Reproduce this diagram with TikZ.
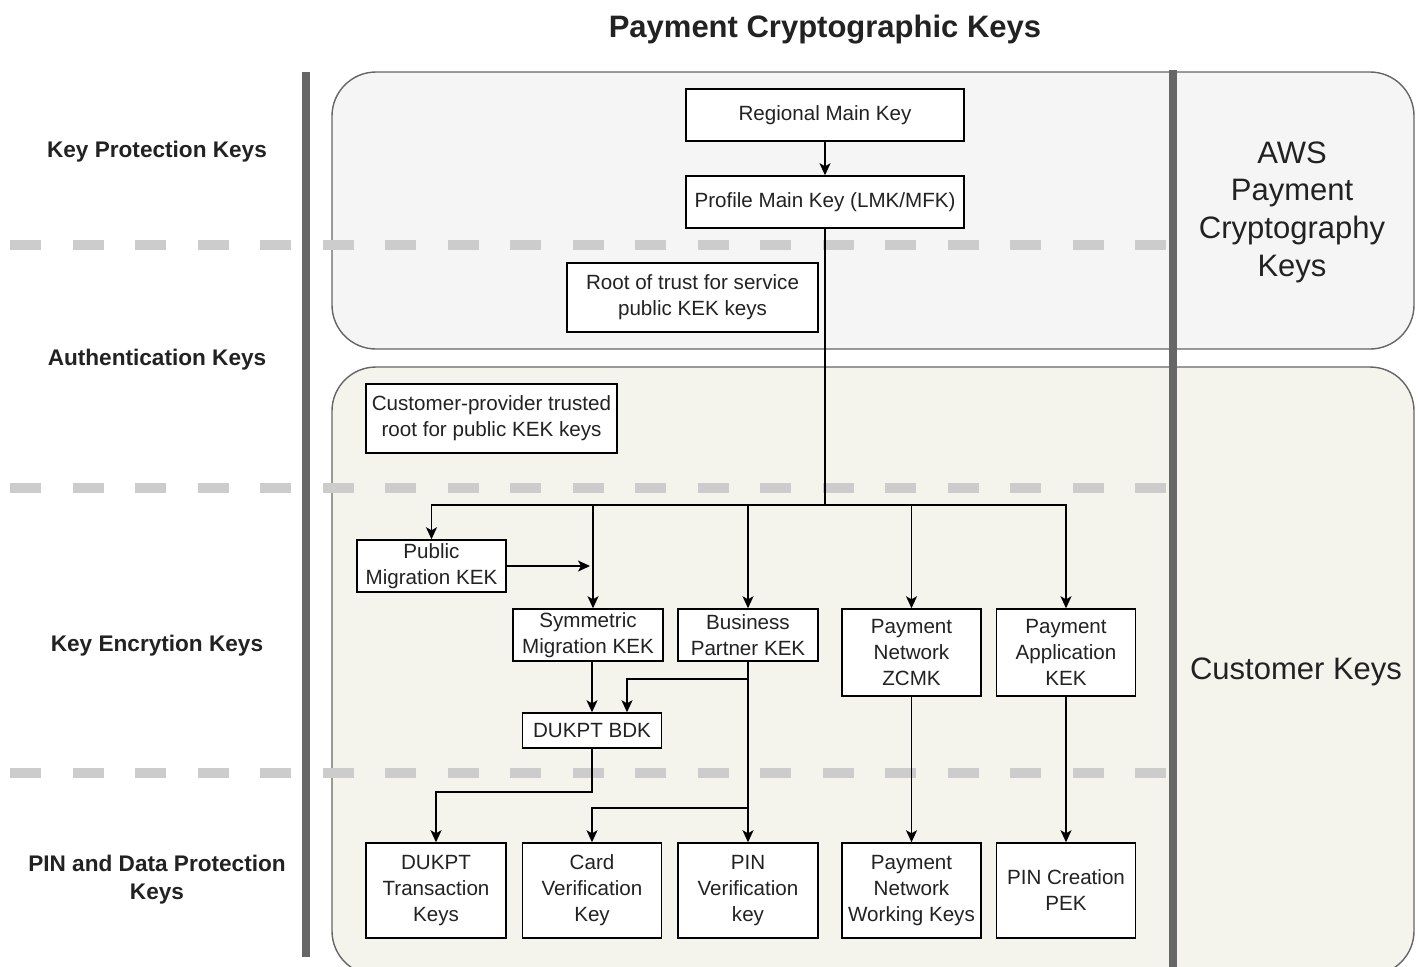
\documentclass[tikz,border=0pt]{standalone}
\usepackage{fontspec}
\setmainfont{Liberation Sans}
\usetikzlibrary{arrows.meta}
\definecolor{bargray}{HTML}{666666}
\definecolor{dashgray}{HTML}{CCCCCC}
\definecolor{topfill}{HTML}{F5F5F5}
\definecolor{botfill}{HTML}{F4F4EC}
\definecolor{txt}{HTML}{222222}
\tikzset{
  kbox/.style={draw=black, line width=0.75pt, fill=white, inner sep=0pt, align=center,
    text=txt, font=\fontsize{10.3}{13}\selectfont},
  arr/.style={line width=0.75pt, -{Stealth[length=6pt,width=5.5pt,inset=1.5pt]}},
  conn/.style={line width=0.75pt},
  layerline/.style={dashgray, line width=5pt, dash pattern=on 15.6pt off 15.65pt},
  vbar/.style={bargray, line width=4pt},
  region/.style={draw=bargray, line width=0.7pt, rounded corners=22pt},
  lefttext/.style={align=center, font=\bfseries\fontsize{11.3}{14}\selectfont, text=txt},
  righttext/.style={align=center, font=\fontsize{15.5}{18.8}\selectfont, text=txt},
}
\begin{document}
\begin{tikzpicture}[x=0.5pt,y=-0.5pt]
\useasboundingbox (0,0) rectangle (1418,966);
\begin{scope}
\clip (0,0) rectangle (1418,966);
% regions
\draw[region, fill=topfill] (332,72) rectangle (1414,349);
\draw[region, fill=botfill] (332,367) rectangle (1414,975);
% layer separators
\draw[layerline] (10,245) -- (1166,245);
\draw[layerline] (10,488) -- (1166,488);
\draw[layerline] (10,773) -- (1166,773);
% bars
\draw[vbar] (306,72) -- (306,957);
\draw[vbar] (1173,70) -- (1173,970);
\end{scope}

% title
\node[font=\bfseries\fontsize{15.5}{18}\selectfont, text=txt] (title) at (825,30) {Payment Cryptographic Keys};

% left labels
\node[lefttext] (lkp) at (157,152) {Key Protection Keys};
\node[lefttext] (lauth) at (157,360) {Authentication Keys};
\node[lefttext] (lkek) at (157,646) {Key Encrytion Keys};
\node[lefttext] (lpin) at (157,880) {PIN and Data Protection\\Keys};

% right labels
\node[righttext] (raws) at (1292,212) {AWS\\Payment\\Cryptography\\Keys};
\node[righttext] (rcust) at (1296,672) {Customer Keys};

% boxes
\node[kbox, minimum width=139pt, minimum height=26pt] (rmk) at (825,115) {Regional Main Key};
\node[kbox, minimum width=139pt, minimum height=26pt] (pmk) at (825,202) {Profile Main Key (LMK/MFK)};
\node[kbox, minimum width=125.5pt, minimum height=34.5pt] (rot) at (692.5,297.5) {Root of trust for service\\public KEK keys};
\node[kbox, minimum width=125.5pt, minimum height=34.5pt] (cpt) at (491.5,418.5) {Customer-provider trusted\\root for public KEK keys};
\node[kbox, minimum width=74.5pt, minimum height=26pt] (pub) at (431.5,566) {Public\\Migration KEK};
\node[kbox, minimum width=75pt, minimum height=26pt] (sym) at (588,635) {Symmetric\\Migration KEK};
\node[kbox, minimum width=70pt, minimum height=26pt] (bp) at (748,635) {Business\\Partner KEK};
\node[kbox, minimum width=69.5pt, minimum height=43.5pt] (zcmk) at (911.5,652.5) {Payment\\Network\\ZCMK};
\node[kbox, minimum width=69.5pt, minimum height=43.5pt] (app) at (1066,652.5) {Payment\\Application\\KEK};
\node[kbox, minimum width=69.5pt, minimum height=17.5pt] (bdk) at (592,730.5) {DUKPT BDK};
\node[kbox, minimum width=70pt, minimum height=47.5pt] (dtk) at (436,890.5) {DUKPT\\Transaction\\Keys};
\node[kbox, minimum width=69.5pt, minimum height=47.5pt] (cvk) at (592,890.5) {Card\\Verification\\Key};
\node[kbox, minimum width=70pt, minimum height=47.5pt] (pinv) at (748,890.5) {PIN\\Verification\\key};
\node[kbox, minimum width=69.5pt, minimum height=47.5pt] (pnwk) at (911.5,890.5) {Payment\\Network\\Working Keys};
\node[kbox, minimum width=69.5pt, minimum height=47.5pt] (pek) at (1066,890.5) {PIN Creation\\PEK};

% junction coordinates
\coordinate (bus) at (825,505);
\coordinate (pubend) at (590,566);
\coordinate (bpj) at (748,679);
\coordinate (bpj2) at (748,808);
\coordinate (bdkj) at (592,792);

% connectors
\draw[arr] (rmk) -- (pmk);
\draw[conn] (pmk.south) -- (bus);
\draw[arr] (bus) -| (pub.north);
\draw[arr] (bus) -| ([xshift=2.5pt]sym.north);
\draw[arr] (bus) -| (bp.north);
\draw[arr] (bus) -| (zcmk.north);
\draw[arr] (bus) -| (app.north);
\draw[arr] (pub.east) -- (pubend);
\draw[arr] (sym.south -| bdk.north) -- (bdk.north);
\draw[arr] (bp.south) -- (bpj) -| ([xshift=17.5pt]bdk.north);
\draw[arr] (bp.south) -- (pinv.north);
\draw[arr] (bpj2) -| (cvk.north);
\draw[arr] (bdk.south) -- (bdkj) -| (dtk.north);
\draw[arr] (zcmk) -- (pnwk);
\draw[arr] (app) -- (pek);
\end{tikzpicture}
\end{document}
